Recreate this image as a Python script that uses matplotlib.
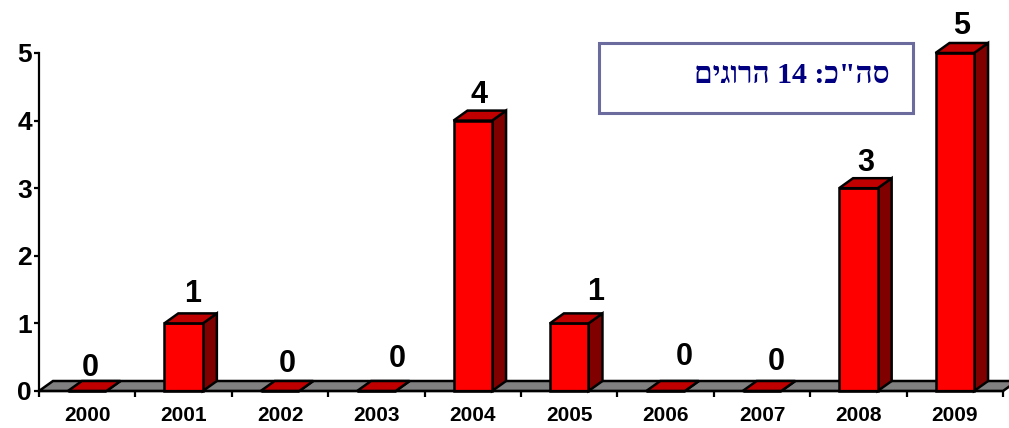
import matplotlib
matplotlib.use("Agg")
import matplotlib.pyplot as plt
from matplotlib.patches import Polygon, Rectangle

# ---- data -------------------------------------------------------------
years = ["2000", "2001", "2002", "2003", "2004",
         "2005", "2006", "2007", "2008", "2009"]
killed = [0, 1, 0, 0, 4, 1, 0, 0, 3, 5]
y_ticks = [0, 1, 2, 3, 4, 5]
total_label = 'סה"כ: {} הרוגים'.format(sum(killed))

# value-label nudges (points) relative to the bar's front top edge
label_dx = [2.2, 6.5, 5.4, 14.8, 4.7, 18.7, 13.7, 10.1, 5.4, 4.7]
label_dy = [10.8, 15.1, 13.7, 17.3, 13.0, 16.6, 18.7, 15.1, 12.2, 13.7]

# ---- style ------------------------------------------------------------
W, H = 1009, 428
FRONT = "#FF0000"
TOP = "#C00000"
SIDE = "#800000"
FLOOR = "#808080"
EDGE_LW = 1.8
BAR_W = 0.40
DX, DY = 0.145, 0.148          # 3-D depth offset in data units
SANS = ["Liberation Sans", "DejaVu Sans"]


def visual_rtl(text):
    """Lay out a right-to-left string for left-to-right rendering."""
    words = text.split(" ")[::-1]
    out = []
    for w in words:
        if any("\u0590" <= ch <= "\u05FF" for ch in w):
            out.append(w[::-1])
        else:
            out.append(w)
    return " ".join(out)


fig = plt.figure(figsize=(W / 100, H / 100), dpi=100)
fig.patch.set_facecolor("white")

x_left, x_right, y_top, y_base = 39, 1003, 53, 391
ax = fig.add_axes([x_left / W, (H - y_base) / H,
                   (x_right - x_left) / W, (y_base - y_top) / H])
n = len(years)
ax.set_xlim(-0.5, n - 0.5)
ax.set_ylim(0, 5)
ax.set_facecolor("none")

# floor
xmin, xmax = -0.5, n - 0.5
ax.add_patch(Polygon([(xmin, 0), (xmax, 0), (xmax + DX, DY), (xmin + DX, DY)],
                     closed=True, facecolor=FLOOR, edgecolor="black",
                     lw=EDGE_LW, clip_on=False, zorder=1, joinstyle="miter"))

# front faces
xs = list(range(n))
bars = ax.bar(xs, killed, width=BAR_W, color=FRONT, edgecolor="black",
              linewidth=EDGE_LW, zorder=3, clip_on=False)

for i, (rect, v) in enumerate(zip(bars, killed)):
    x0 = rect.get_x()
    x1 = x0 + rect.get_width()
    top = [(x0, v), (x1, v), (x1 + DX, v + DY), (x0 + DX, v + DY)]
    side = [(x1, 0), (x1 + DX, DY), (x1 + DX, v + DY), (x1, v)]
    ax.add_patch(Polygon(side, closed=True, facecolor=SIDE, edgecolor="black",
                         lw=EDGE_LW, zorder=2, clip_on=False,
                         joinstyle="miter"))
    ax.add_patch(Polygon(top, closed=True, facecolor=TOP, edgecolor="black",
                         lw=EDGE_LW, zorder=4, clip_on=False,
                         joinstyle="miter"))
    ax.annotate(str(v), xy=(i, v), xytext=(label_dx[i], label_dy[i]),
                textcoords="offset points", ha="center", va="baseline",
                fontsize=22, fontweight="bold", family=SANS,
                color="black", annotation_clip=False, zorder=6)

# axes
for s in ("top", "right"):
    ax.spines[s].set_visible(False)
for s in ("left", "bottom"):
    ax.spines[s].set_linewidth(1.6)
    ax.spines[s].set_color("black")
    ax.spines[s].set_zorder(5)

ax.set_yticks(y_ticks)
ax.set_yticklabels([str(t) for t in y_ticks], fontsize=19,
                   fontweight="bold", family=SANS)
ax.tick_params(axis="y", direction="out", length=3.6, width=1.6, pad=1.5)

ax.set_xticks(xs)
ax.set_xticklabels(years, fontsize=15, fontweight="bold", family=SANS)
ax.set_xticks([i - 0.5 for i in range(n + 1)], minor=True)
ax.tick_params(axis="x", which="major", length=0, pad=11)
ax.tick_params(axis="x", which="minor", direction="out", length=4.5,
               width=1.6)

# total box
bx0, by0, bx1, by1 = 599, 43, 913, 113
fig.patches.append(Rectangle((bx0 / W, 1 - by1 / H), (bx1 - bx0) / W,
                             (by1 - by0) / H, transform=fig.transFigure,
                             facecolor="white", edgecolor="#6B6B9E",
                             lw=2.2, zorder=10))
fig.text(890 / W, 1 - 83 / H, visual_rtl(total_label), ha="right",
         va="baseline", fontsize=21.5, fontweight="bold",
         family=["Liberation Serif", "DejaVu Serif", "DejaVu Sans"],
         color="#000080", zorder=11)

fig.savefig("out.png", dpi=100, facecolor="white")
